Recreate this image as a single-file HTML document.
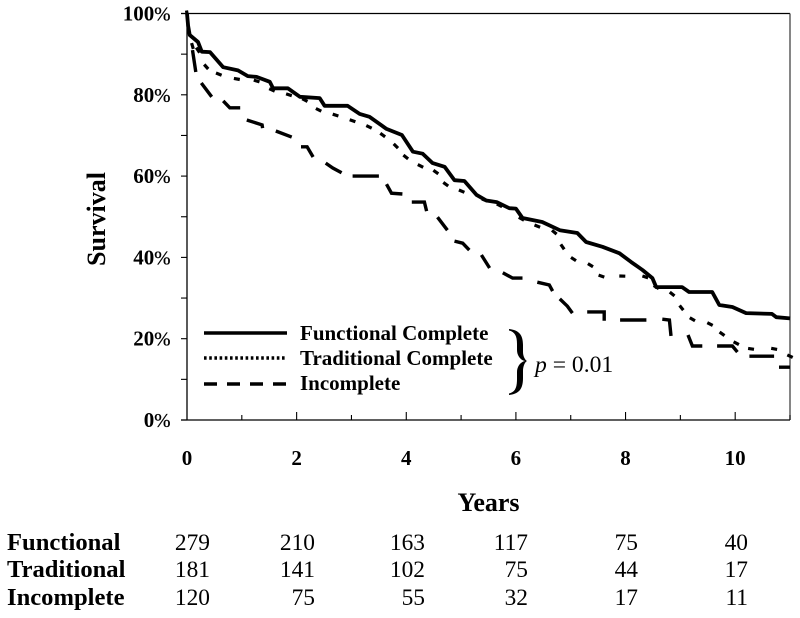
<!DOCTYPE html>
<html>
<head>
<meta charset="utf-8">
<title>Survival chart</title>
<style>
html,body{margin:0;padding:0;background:#fff;width:800px;height:618px;overflow:hidden}
svg{display:block}
text{font-family:"Liberation Serif",serif;fill:#000}
.b{font-weight:bold}
</style>
</head>
<body>
<svg id="chart" xmlns="http://www.w3.org/2000/svg" width="800" height="618" viewBox="0 0 800 618">
<g id="axes"></g>
<g id="series"></g>
<g id="labels"></g>
<text class="b" transform="translate(105,219) rotate(-90)" text-anchor="middle" font-size="26">Survival</text>
<text class="b" x="488.5" y="511" text-anchor="middle" font-size="26">Years</text>
<g>
<line x1="204" x2="287" y1="333" y2="333" stroke="#000" stroke-width="3.5"/>
<line x1="204" x2="287" y1="358" y2="358" stroke="#000" stroke-width="3.5" stroke-dasharray="2.6 2.6"/>
<line x1="204" x2="288" y1="384" y2="384" stroke="#000" stroke-width="3.5" stroke-dasharray="13 10"/>
<text class="b" x="300" y="340" font-size="21">Functional Complete</text>
<text class="b" x="300" y="365" font-size="21">Traditional Complete</text>
<text class="b" x="300" y="390" font-size="21">Incomplete</text>
</g>
<path fill="#000" d="M509 329 C519 330 523 335 523 345 L523 352 C523 356 525 360 527 361 C525 362 523 366 523 371 L523 378 C523 389 519 394 509 395 L509 393.5 C515 392 517 388 517 379 L517 372 C517 367 520 362 525 361 C520 360 517 355 517 350 L517 344 C517 336 515 332 509 330.5 Z"/>
<text x="535" y="372" font-size="23.6"><tspan font-style="italic">p</tspan> = 0.01</text>
<g id="table"></g>
</svg>
<script>
const xTickLabels = [0, 2, 4, 6, 8, 10];
const yTickLabels = [0, 20, 40, 60, 80, 100];

const functionalYears = [0,0.02,0.05,0.2,0.27,0.42,0.66,0.93,1.11,1.27,1.51,1.57,1.84,2.06,2.42,2.51,2.93,3.15,3.33,3.64,3.92,4.12,4.3,4.48,4.7,4.88,5.06,5.28,5.46,5.65,5.88,6.0,6.12,6.48,6.8,7.12,7.28,7.58,7.89,8.1,8.31,8.49,8.56,9.03,9.16,9.58,9.71,9.95,10.2,10.67,10.75,11];
const functionalSurvival = [100,97,94.7,93,90.6,90.5,86.8,86,84.6,84.4,83.2,81.6,81.6,79.5,79.2,77.3,77.3,75.3,74.6,71.6,70.1,66,65.5,63.2,62.3,59,58.8,55.4,54,53.6,52.1,52,49.7,48.7,46.7,46,43.8,42.6,41,38.9,36.9,34.9,32.7,32.7,31.5,31.5,28.3,27.8,26.3,26.1,25.3,25];

const traditionalYears = [0,0.1,0.2,0.35,0.58,0.91,1.27,1.55,1.86,2.15,2.4,2.71,3.02,3.32,3.57,3.81,3.99,4.26,4.54,4.72,5.01,5.43,5.7,6.1,6.39,6.7,6.85,7.05,7.36,7.56,7.94,8.36,8.56,8.85,9.02,9.22,9.54,9.76,10.02,10.29,10.71,11];
const traditionalSurvival = [100,92,91,86.9,85.1,83.9,83.4,81.2,80,78.7,76.3,75,73.6,72.1,70.1,67.4,64.7,62.5,61,58,56.3,54.1,52.8,49.5,47.7,46.2,42.6,39.6,38.1,35.4,35.4,35.2,32.7,31,27.6,24.8,23.6,21.2,18.9,17.5,17.5,15.7];

const incompleteYears = [0.1,0.16,0.26,0.45,0.66,0.78,0.97,1.09,1.37,1.38,1.62,1.91,2.08,2.19,2.3,2.53,2.66,2.82,3.02,3.5,3.64,3.73,3.93,4.1,4.33,4.37,4.57,4.75,4.88,5.03,5.15,5.37,5.52,5.76,5.94,6.12,6.39,6.61,6.67,6.8,6.94,7.03,7.3,7.61,7.61,7.9,8.38,8.67,8.8,8.83,9.14,9.22,9.4,9.67,9.95,10.04,10.26,10.71,10.8,11];
const incompleteSurvival = [91,85.6,82.9,79.5,78.5,76.8,76.8,73.8,72.6,71.8,71.1,69.6,67.2,67.2,64.7,63.2,62,60.8,60,60,58,55.8,55.6,53.6,53.6,51.4,49.9,46.7,44,43.5,41.8,40.6,37.4,36.2,34.9,34.9,33.9,33.2,31.7,29.8,28,26.3,26.6,26.6,24.4,24.6,24.6,24.8,24.6,20.7,20.9,18.2,18.2,18.2,18.2,16.7,15.7,15.7,13,13];
const incompleteDashEndIndexes = [1,3,6,9,11,14,17,19,22,25,27,30,32,35,38,41,44,46,49,52,55,57];

const rowNames = ["Functional", "Traditional", "Incomplete"];
const functionalCounts = [279, 210, 163, 117, 75, 40];
const traditionalCounts = [181, 141, 102, 75, 44, 17];
const incompleteCounts = [120, 75, 55, 32, 17, 11];

const NS = "http://www.w3.org/2000/svg";
const xMaxYears = 11;
const plot = {left: 187, right: 790, top: 13.5, bottom: 420};
function xScale(v) { return plot.left + (v / xMaxYears) * (plot.right - plot.left); }
function yScale(v) { return plot.bottom - (v / 100) * (plot.bottom - plot.top); }
function make(tag, attrs, parent, txt) {
  const el = document.createElementNS(NS, tag);
  for (const k in attrs) el.setAttribute(k, attrs[k]);
  if (txt !== undefined) el.textContent = txt;
  parent.appendChild(el);
  return el;
}
const axes = document.getElementById("axes");
const labels = document.getElementById("labels");
const seriesG = document.getElementById("series");
const tableG = document.getElementById("table");

let el;
el = make("line", {x1: plot.left, x2: plot.left, y1: plot.top, y2: plot.bottom, stroke: "#000", "stroke-width": 1.3}, axes);


el = make("line", {x1: 181, x2: plot.right, y1: plot.bottom, y2: plot.bottom, stroke: "#000", "stroke-width": 1.3}, axes);


el = make("line", {x1: 181, x2: plot.right, y1: plot.top, y2: plot.top, stroke: "#000", "stroke-width": 1.3}, axes);


el = make("line", {x1: plot.right, x2: plot.right, y1: plot.top, y2: plot.bottom, stroke: "#444", "stroke-width": 1.3}, axes);



for (let v = 0; v <= 100; v += 10) {
  el = make("line", {x1: 181, x2: plot.left, y1: yScale(v), y2: yScale(v), stroke: "#000", "stroke-width": 1.1}, axes);
  
  
}
for (let v = 1; v <= xMaxYears; v++) {
  el = make("line", {x1: xScale(v), x2: xScale(v), y1: plot.bottom, y2: plot.bottom - (v % 2 ? 5 : 8), stroke: "#000", "stroke-width": 1.1}, axes);
  
  
}
yTickLabels.forEach(function (v) {
  const t = make("text", {x: 170.5, y: yScale(v) + 7, "text-anchor": "end", "font-size": 21, "font-weight": "bold"}, labels, String(v));
  
  
  make("tspan", {"font-size": 19.5, "font-weight": "normal", stroke: "#000", "stroke-width": 0.3}, t, "%");
});
xTickLabels.forEach(function (v) {
  el = make("text", {x: xScale(v), y: 465, "text-anchor": "middle", "font-size": 21, "font-weight": "bold"}, labels, String(v));
  
  
});

function solidPath(xs, ys) {
  let d = "";
  for (let i = 0; i < xs.length; i++) {
    d += (i ? "L" : "M") + xScale(xs[i]).toFixed(1) + " " + yScale(ys[i]).toFixed(1);
  }
  return d;
}
function brokenPath(xs, ys, ends) {
  let d = "";
  for (let i = 0; i < xs.length; i++) {
    const start = i === 0 || ends.indexOf(i - 1) !== -1;
    d += (start ? "M" : "L") + xScale(xs[i]).toFixed(1) + " " + yScale(ys[i]).toFixed(1);
  }
  return d;
}
function shortDashPath(xs, ys, half) {
  let d = "";
  for (let i = 0; i < xs.length; i++) {
    const a = Math.max(i - 1, 0);
    const b = Math.min(i + 1, xs.length - 1);
    const dx = xScale(xs[b]) - xScale(xs[a]);
    const dy = yScale(ys[b]) - yScale(ys[a]);
    const len = Math.hypot(dx, dy) || 1;
    const px = xScale(xs[i]);
    const py = yScale(ys[i]);
    d += "M" + (px - dx / len * half).toFixed(1) + " " + (py - dy / len * half).toFixed(1);
    d += "L" + (px + dx / len * half).toFixed(1) + " " + (py + dy / len * half).toFixed(1);
  }
  return d;
}
el = make("path", {d: shortDashPath(traditionalYears, traditionalSurvival, 3), fill: "none", stroke: "#000", "stroke-width": 3.2}, seriesG);


el = make("path", {d: brokenPath(incompleteYears, incompleteSurvival, incompleteDashEndIndexes), fill: "none", stroke: "#000", "stroke-width": 3.4}, seriesG);


el = make("path", {d: solidPath(functionalYears, functionalSurvival), fill: "none", stroke: "#000", "stroke-width": 3.8, "stroke-linejoin": "round"}, seriesG);



const rowBaselines = [550, 577, 605];
const columnRightEdges = [210, 315, 425, 528, 638, 748];
const rowCounts = [functionalCounts, traditionalCounts, incompleteCounts];
rowNames.forEach(function (name, r) {
  el = make("text", {x: 7, y: rowBaselines[r], "font-size": 24.6, "font-weight": "bold"}, tableG, name);
  
  
  rowCounts[r].forEach(function (n, c) {
    el = make("text", {x: columnRightEdges[c], y: rowBaselines[r], "text-anchor": "end", "font-size": 23.4}, tableG, String(n));
    
    
  });
});
</script>
</body>
</html>
